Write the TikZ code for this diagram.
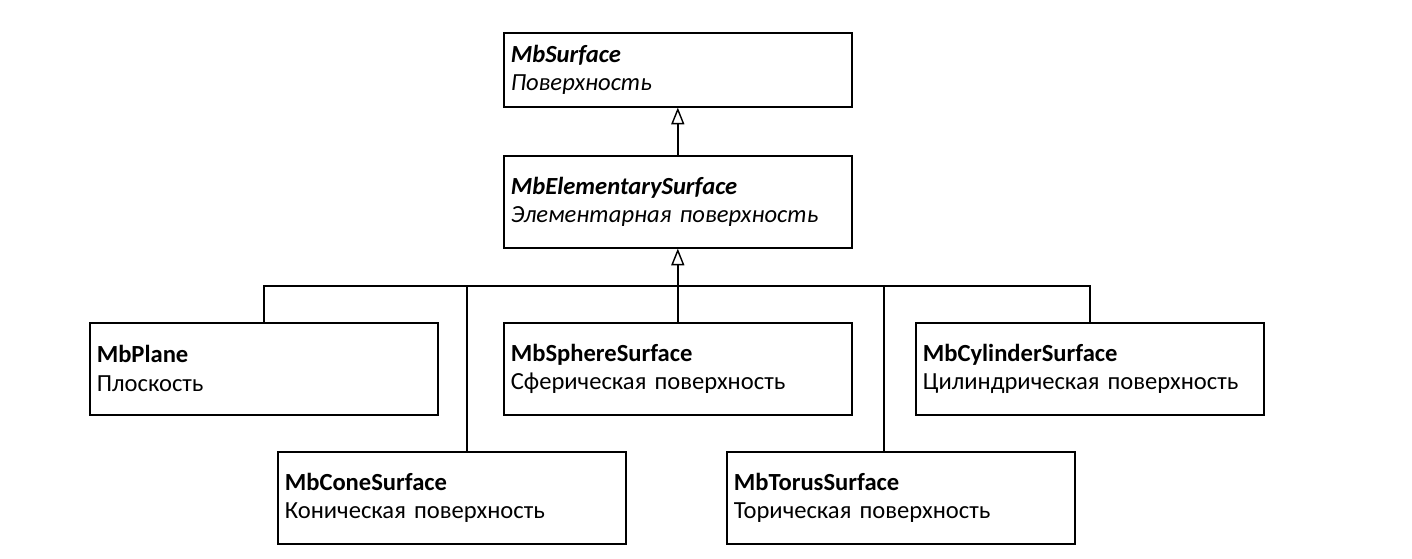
\documentclass[tikz,border=0pt]{standalone}
\usepackage{fontspec}
\setmainfont{Carlito}
\usetikzlibrary{arrows.meta}

\begin{document}
\begin{tikzpicture}[x=0.02cm,y=-0.02cm,
  cls/.style={draw,line width=0.9pt,anchor=north west,minimum width=348*0.02cm,
    minimum height=92*0.02cm,text width=334*0.02cm,inner xsep=7*0.02cm,inner ysep=0pt,
    align=left,font=\fontsize{14}{16.4}\selectfont},
  link/.style={line width=1.4pt},
  inh/.style={link,-{Triangle[open,length=9.5pt,width=7.4pt,line width=0.8pt]}}]
\useasboundingbox (0,0) rectangle (1412,558);
\node[cls,minimum height=74*0.02cm] (surf) at (503,32) {\textbf{\textit{MbSurface}}\\\textit{Поверхность}};
\node[cls] (elem) at (503,155) {\textbf{\textit{MbElementarySurface}}\\\textit{Элементарная поверхность}};
\node[cls] (plane) at (89,322) {\textbf{MbPlane}\\Плоскость};
\node[cls] (sphere) at (503,322) {\textbf{MbSphereSurface}\\Сферическая поверхность};
\node[cls] (cyl) at (915,322) {\textbf{MbCylinderSurface}\\Цилиндрическая поверхность};
\node[cls] (cone) at (277,451) {\textbf{MbConeSurface}\\Коническая поверхность};
\node[cls] (torus) at (726,451) {\textbf{MbTorusSurface}\\Торическая поверхность};
\draw[inh] (elem.north) -- (surf.south);
\draw[inh] (sphere.north) -- (elem.south);
\draw[link] (plane.north) -- ++(0,-36) -| (cyl.north);
\draw[link] (cone.north) ++(15,0) -- ++(0,-165);
\draw[link] (torus.north) ++(-17,0) -- ++(0,-165);
\end{tikzpicture}
\end{document}
